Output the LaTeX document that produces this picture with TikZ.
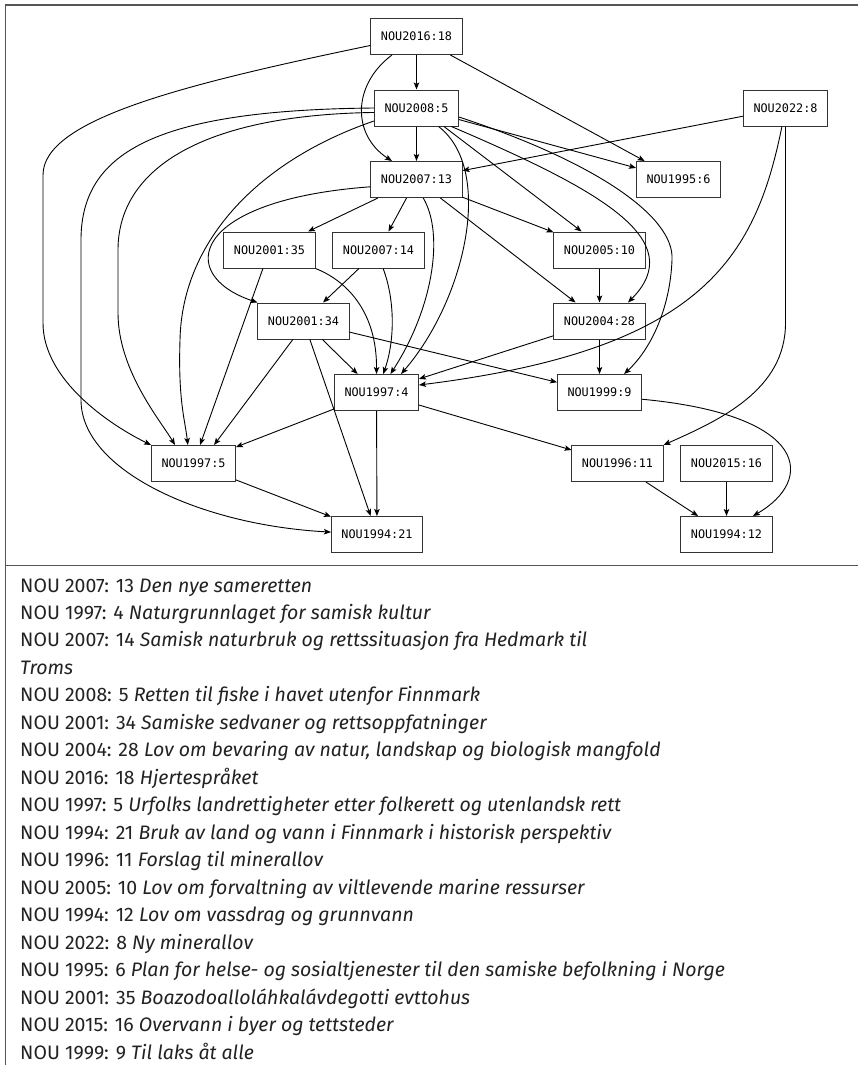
\documentclass[tikz,border=0pt]{standalone}
\usepackage{fontspec}
\setmainfont{Fira Sans}
\newfontfamily\graphfont{DejaVu Sans Mono}
\usetikzlibrary{arrows.meta}
\definecolor{framegray}{HTML}{555555}
\definecolor{boxgray}{HTML}{333333}
\definecolor{inkgray}{HTML}{222222}

\begin{document}
\begin{tikzpicture}[x=1pt,y=-1pt,
  doc/.style={draw=boxgray, line width=1pt, fill=white,
    font=\graphfont\fontsize{11.8}{12}\selectfont,
    inner xsep=10pt, inner ysep=0pt, minimum height=36pt},
  ref/.style={-{Stealth[length=7pt,width=5.5pt,inset=1.5pt]}, line width=0.9pt},
  item/.style={anchor=base west, inner sep=0pt, text=inkgray,
    font=\fontsize{19.5}{23}\selectfont},
  frame/.style={draw=framegray, line width=1.3pt}
]
% page and frame
\fill[white] (0,0) rectangle (858,1065);
\useasboundingbox (0,0) rectangle (858,1065);
\draw[frame] (858,5) -- (5.5,5) -- (5.5,1065);
\draw[frame] (5.5,565.5) -- (858,565.5);

% reports
\node[doc] (n2016) at (416.5,36.5) {NOU2016:18};
\node[doc] (n2008) at (416.5,108)  {NOU2008:5};
\node[doc] (n2022) at (785.5,108)  {NOU2022:8};
\node[doc] (n2007a) at (416.5,179.5) {NOU2007:13};
\node[doc] (n1995) at (678.5,179.5) {NOU1995:6};
\node[doc] (n2001a) at (269.5,250) {NOU2001:35};
\node[doc] (n2007b) at (378.5,250) {NOU2007:14};
\node[doc] (n2005) at (599.5,250) {NOU2005:10};
\node[doc] (n2001b) at (303.5,321) {NOU2001:34};
\node[doc] (n2004) at (599.5,321) {NOU2004:28};
\node[doc] (n1997a) at (376.5,392.5) {NOU1997:4};
\node[doc] (n1999) at (599.5,392.5) {NOU1999:9};
\node[doc] (n1997b) at (193.5,463.5) {NOU1997:5};
\node[doc] (n1996) at (617.5,463.5) {NOU1996:11};
\node[doc] (n2015) at (726.5,463.5) {NOU2015:16};
\node[doc] (n1994a) at (377,534.5) {NOU1994:21};
\node[doc] (n1994b) at (726.5,534.5) {NOU1994:12};

% references
\draw[ref] (n2016) -- (n2008);
\draw[ref] (n2016.-143) .. controls (352,85) and (352,135) .. (n2007a.143);
\draw[ref] (n2016) -- (n1995);
\draw[ref] (n2016.-169) .. controls (180,85) and (43,120) .. (43,175) -- (43,323)
  .. controls (43,380) and (110,425) .. (n1997b.north west);

\draw[ref] (n2008) -- (n2007a);
\draw[ref] (n2008.west) .. controls (160,110) and (81,150) .. (81,240) -- (81,400)
  .. controls (81,470) and (200,525) .. (n1994a.177);
\draw[ref] (n2008.-174) .. controls (200,115) and (118,170) .. (118,250) -- (118,313)
  .. controls (118,370) and (160,420) .. (n1997b.135);
\draw[ref] (n2008.-163) .. controls (260,160) and (182,240) .. (180,340)
  .. controls (178,400) and (185,420) .. (n1997b.107);
\draw[ref] (n2008) -- (n1995);
\draw[ref] (n2008.-12) .. controls (590,160) and (675,215) .. (672,260)
  .. controls (670,310) and (650,350) .. (n1999.37);
\draw[ref] (n2008.-34) -- (n2005.134);
\draw[ref] (n2008.-28) .. controls (600,190) and (690,240) .. (n2004.33);
\draw[ref] (n2008.-40) .. controls (495,170) and (465,300) .. (n1997a.37);

\draw[ref] (n2022) -- (n2007a);
\draw[ref] (n2022.-101) .. controls (755,260) and (700,350) .. (n1997a.10);
\draw[ref] (n2022.south) -- (785.5,323) .. controls (785.5,390) and (720,420) .. (n1996.north east);

\draw[ref] (n2007a) -- (n2001a);
\draw[ref] (n2007a) -- (n2007b);
\draw[ref] (n2007a) -- (n2005);
\draw[ref] (n2007a) -- (n2004);
\draw[ref] (n2007a.-171) .. controls (190,200) and (175,275) .. (n2001b.north west);
\draw[ref] (n2007a.-70) .. controls (445,235) and (432,310) .. (n1997a.53);

\draw[ref] (n2001a) -- (n1997b);
\draw[ref] (n2001a.south east) .. controls (345,280) and (377,310) .. (n1997a.north);
\draw[ref] (n2007b) -- (n2001b);
\draw[ref] (n2007b.-76) .. controls (395,300) and (395,340) .. (n1997a.70);

\draw[ref] (n2001b) -- (n1997a);
\draw[ref] (n2001b) -- (n1999);
\draw[ref] (n2001b) -- (n1994a);
\draw[ref] (n2001b.-120) -- (n1997b.42);

\draw[ref] (n2005) -- (n2004);
\draw[ref] (n2004) -- (n1997a);
\draw[ref] (n2004) -- (n1999);

\draw[ref] (n1997a) -- (n1997b);
\draw[ref] (n1997a) -- (n1994a);
\draw[ref] (n1997a) -- (n1996);
\draw[ref] (n1999.-9) .. controls (810,415) and (815,480) .. (n1994b.35);
\draw[ref] (n1996) -- (n1994b);
\draw[ref] (n2015) -- (n1994b);
\draw[ref] (n1997b) -- (n1994a);

% list of titles
\node[item] (t1)  at (20,592.0)  {NOU 2007: 13 \textit{Den nye sameretten}};
\node[item] (t2)  at (20,619.5)  {NOU 1997: 4 \textit{Naturgrunnlaget for samisk kultur}};
\node[item] (t3)  at (20,646.9)  {NOU 2007: 14 \textit{Samisk naturbruk og rettssituasjon fra Hedmark til}};
\node[item] (t4)  at (20,674.4)  {\textit{Troms}};
\node[item] (t5)  at (20,701.9)  {NOU 2008: 5 \textit{Retten til fiske i havet utenfor Finnmark}};
\node[item] (t6)  at (20,729.4)  {NOU 2001: 34 \textit{Samiske sedvaner og rettsoppfatninger}};
\node[item] (t7)  at (20,756.8)  {NOU 2004: 28 \textit{Lov om bevaring av natur, landskap og biologisk mangfold}};
\node[item] (t8)  at (20,784.3)  {NOU 2016: 18 \textit{Hjertespråket}};
\node[item] (t9)  at (20,811.8)  {NOU 1997: 5 \textit{Urfolks landrettigheter etter folkerett og utenlandsk rett}};
\node[item] (t10) at (20,839.2)  {NOU 1994: 21 \textit{Bruk av land og vann i Finnmark i historisk perspektiv}};
\node[item] (t11) at (20,866.7)  {NOU 1996: 11 \textit{Forslag til minerallov}};
\node[item] (t12) at (20,894.2)  {NOU 2005: 10 \textit{Lov om forvaltning av viltlevende marine ressurser}};
\node[item] (t13) at (20,921.6)  {NOU 1994: 12 \textit{Lov om vassdrag og grunnvann}};
\node[item] (t14) at (20,949.1)  {NOU 2022: 8 \textit{Ny minerallov}};
\node[item] (t15) at (20,976.6)  {NOU 1995: 6 \textit{Plan for helse- og sosialtjenester til den samiske befolkning i Norge}};
\node[item] (t16) at (20,1004.1) {NOU 2001: 35 \textit{Boazodoalloláhkalávdegotti evttohus}};
\node[item] (t17) at (20,1031.5) {NOU 2015: 16 \textit{Overvann i byer og tettsteder}};
\node[item] (t18) at (20,1059.0) {NOU 1999: 9 \textit{Til laks åt alle}};
\end{tikzpicture}
\end{document}
